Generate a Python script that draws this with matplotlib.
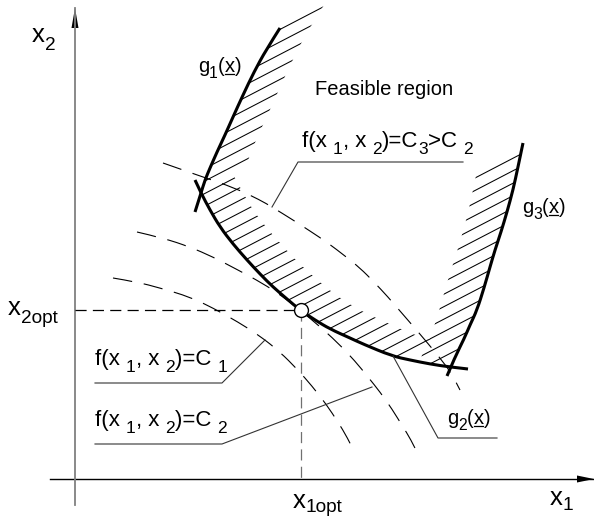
import numpy as np
import matplotlib
matplotlib.use("Agg")
import matplotlib.pyplot as plt
from matplotlib.path import Path
from matplotlib.patches import PathPatch, Polygon
from matplotlib.collections import LineCollection

plt.rcParams.update({
    "font.family": ["Liberation Sans", "DejaVu Sans"],
    "lines.scale_dashes": False,
})

W, H = 594, 517

# --- sketch geometry (pixel coordinates, y downwards) ---
g1_pts = [(280, 28), (266, 50), (254, 72), (243, 95), (233, 117), (225, 135),
          (217, 152), (210, 168), (205, 180), (201, 193), (195, 212)]
g2_pts = [(195, 180), (201, 193), (210, 210), (220, 227), (233, 244), (247, 260),
          (260, 274), (273, 287), (287, 299), (300, 310), (315, 320), (330, 329),
          (350, 338), (363, 344), (392, 356), (410, 360), (430, 364), (450, 367),
          (468, 369)]
g3_pts = [(523, 143), (518, 167), (513, 190), (507, 212), (501, 232), (495, 250),
          (490, 267), (484, 288), (477, 310), (470, 325), (464, 339), (455, 357),
          (447, 376)]

c1_pts = [(113, 278), (137, 282), (160, 288), (190, 297), (213, 308), (238, 322),
          (260, 336), (280, 352), (297, 369), (312, 386), (326, 404), (338, 422),
          (347, 437), (353, 449)]
c2_pts = [(137, 232), (163, 238), (190, 247), (213, 257), (238, 270), (262, 283),
          (282, 296), (300, 310), (318, 325), (337, 342), (355, 361), (368, 377),
          (380, 392), (392, 409), (403, 427), (410, 438), (417, 452)]
c3_pts = [(163, 163), (200, 176), (235, 188), (260, 200), (272, 207), (293, 220),
          (310, 231), (328, 243), (345, 256), (360, 268), (374, 282), (388, 297),
          (400, 311), (413, 326), (425, 340), (440, 358), (452, 374), (460, 390)]

x_opt = (301, 310)
x_axis = [(50, 479), (594, 479)]
y_axis = [(75, 505), (75, 8)]

lead_c3 = [(463, 162), (298, 162), (272, 207)]
lead_c1 = [(95, 383), (222, 383), (265, 340)]
lead_c2 = [(95, 444), (222, 444), (372, 387)]
lead_g2 = [(393, 356), (438, 438), (497, 438)]

# label runs: (text, is_subscript)
lbl_x2 = [("x", 0), ("2", 1)]
lbl_x2opt = [("x", 0), ("2opt", 1)]
lbl_x1opt = [("x", 0), ("1opt", 1)]
lbl_x1 = [("x", 0), ("1", 1)]
lbl_c3 = [("f(x ", 0), ("1", 1), (", x ", 0), ("2", 1), (")=C", 0), ("3", 1),
          (">C ", 0), ("2", 1)]
lbl_c1 = [("f(x ", 0), ("1", 1), (", x ", 0), ("2", 1), (")=C ", 0), ("1", 1)]
lbl_c2 = [("f(x ", 0), ("1", 1), (", x ", 0), ("2", 1), (")=C ", 0), ("2", 1)]

hatch_slope = -0.52
hatch_step = 12.5


def smooth(pts):
    pts = np.asarray(pts, float)
    verts, codes = [pts[0]], [Path.MOVETO]
    n = len(pts)
    for i in range(1, n - 1):
        end = pts[i + 1] if i == n - 2 else (pts[i] + pts[i + 1]) / 2
        verts += [pts[i], end]
        codes += [Path.CURVE3, Path.CURVE3]
    return Path(verts, codes)


def flat(pts):
    return smooth(pts).to_polygons(closed_only=False)[0]


def band(edge_a, edge_b):
    verts = np.vstack([edge_a, edge_b[::-1], edge_a[:1]])
    return Path(verts, closed=True)


fig = plt.figure(figsize=(W / 100, H / 100), dpi=100)
ax = fig.add_axes([0, 0, 1, 1])
ax.set_xlim(0, W)
ax.set_ylim(H, 0)
ax.axis("off")
renderer = fig.canvas.get_renderer()

# --- hatching bands ---
A = flat(g1_pts[:10])
band1 = band(A, A + np.array([44, -23]))
B = flat(g2_pts[1:16])
band2 = band(B, B + np.array([33, -17]))
G2 = flat(g2_pts)
G3 = flat(g3_pts)
g3a = G3[G3[:, 1] <= 362]
g2seg = G2[(G2[:, 0] >= 418) & (G2[:, 0] <= 452)][::-1]
sh = G3 + np.array([-45, 23])
sh = sh[sh[:, 1] <= 361]
band3 = Path(np.vstack([g3a, g2seg, sh[::-1], g3a[:1]]), closed=True)

xs = np.array([0, W])
segs = [np.column_stack([xs, hatch_slope * xs + c])
        for c in np.arange(0, 900, hatch_step)]
for bp in (band1, band2, band3):
    patch = PathPatch(bp, facecolor="none", edgecolor="none")
    ax.add_patch(patch)
    lc = LineCollection(segs, colors="black", linewidths=0.75)
    ax.add_collection(lc)
    lc.set_clip_path(patch)

# --- level curves f = C ---
for pts in (c1_pts, c2_pts, c3_pts):
    p = flat(pts)
    ax.plot(p[:, 0], p[:, 1], color="black", lw=0.8, dashes=(14, 8.5))

# --- constraints ---
for pts in (g1_pts, g2_pts, g3_pts):
    p = flat(pts)
    ax.plot(p[:, 0], p[:, 1], color="black", lw=2.2, solid_capstyle="butt")

# --- axes ---
ax.plot(*zip(*x_axis), color="black", lw=1.0)
ax.plot(*zip(*y_axis), color="#808080", lw=1.3)
tx, ty = x_axis[1]
ax.add_patch(Polygon([(tx, ty), (tx - 17, ty - 3.5), (tx - 17, ty + 3.5)],
                     closed=True, color="black", lw=0))
tx, ty = y_axis[1]
ax.add_patch(Polygon([(tx, ty), (tx - 3.5, ty + 20), (tx + 3.5, ty + 20)],
                     closed=True, color="black", lw=0))

# --- optimum ---
ax.plot([y_axis[0][0], x_opt[0]], [x_opt[1], x_opt[1]], color="black",
        lw=0.9, dashes=(8, 4.5))
ax.plot([x_opt[0], x_opt[0]], [x_opt[1], x_axis[0][1]], color="#707070",
        lw=0.9, dashes=(8, 4.5))
ax.plot(*x_opt, marker="o", ms=10, mfc="white", mec="black", mew=1.0, zorder=5)

# --- leaders ---
for ld in (lead_c3, lead_c1, lead_c2, lead_g2):
    ax.plot(*zip(*ld), color="#333333", lw=0.8)


# --- labels (laid out run by run so subscripts can be sized freely) ---
def tw(s, size):
    t = ax.text(0, 0, s, fontsize=size)
    w = t.get_window_extent(renderer).width
    t.remove()
    return w


def adv(s, size):
    return tw("|" + s + "|", size) - tw("||", size)


def rich(x, y, runs, size, sub=0.78, drop=0.3):
    em = size * 100 / 72
    cx = x
    pos = []
    for s, is_sub in runs:
        fs = size * sub if is_sub else size
        dy = drop * em if is_sub else 0
        ax.text(cx, y + dy, s, fontsize=fs, va="baseline", ha="left")
        pos.append(cx)
        cx += adv(s, fs)
    return pos


def g_label(x, y, idx, size=14.5):
    runs = [("g", 0), (str(idx), 1), ("(", 0), ("x", 0), (")", 0)]
    pos = rich(x, y, runs, size)
    w = adv("x", size)
    ax.plot([pos[3] + 0.5, pos[3] + w - 0.5], [y + 2, y + 2], color="black", lw=0.9)


rich(32, 42, lbl_x2, 18.5, sub=0.74, drop=0.3)
rich(8, 315, lbl_x2opt, 18.5, sub=0.74, drop=0.3)
rich(293, 508, lbl_x1opt, 18.5, sub=0.74, drop=0.16)
rich(550, 505, lbl_x1, 18.5, sub=0.74, drop=0.2)
ax.text(315, 95, "Feasible region", fontsize=14.5, va="baseline")
rich(302, 147, lbl_c3, 16)
rich(95, 365, lbl_c1, 16)
rich(95, 426, lbl_c2, 16)

g_label(198, 72, 1)
g_label(447, 424, 2)
g_label(522, 213, 3)

fig.savefig("out.png", dpi=100)
